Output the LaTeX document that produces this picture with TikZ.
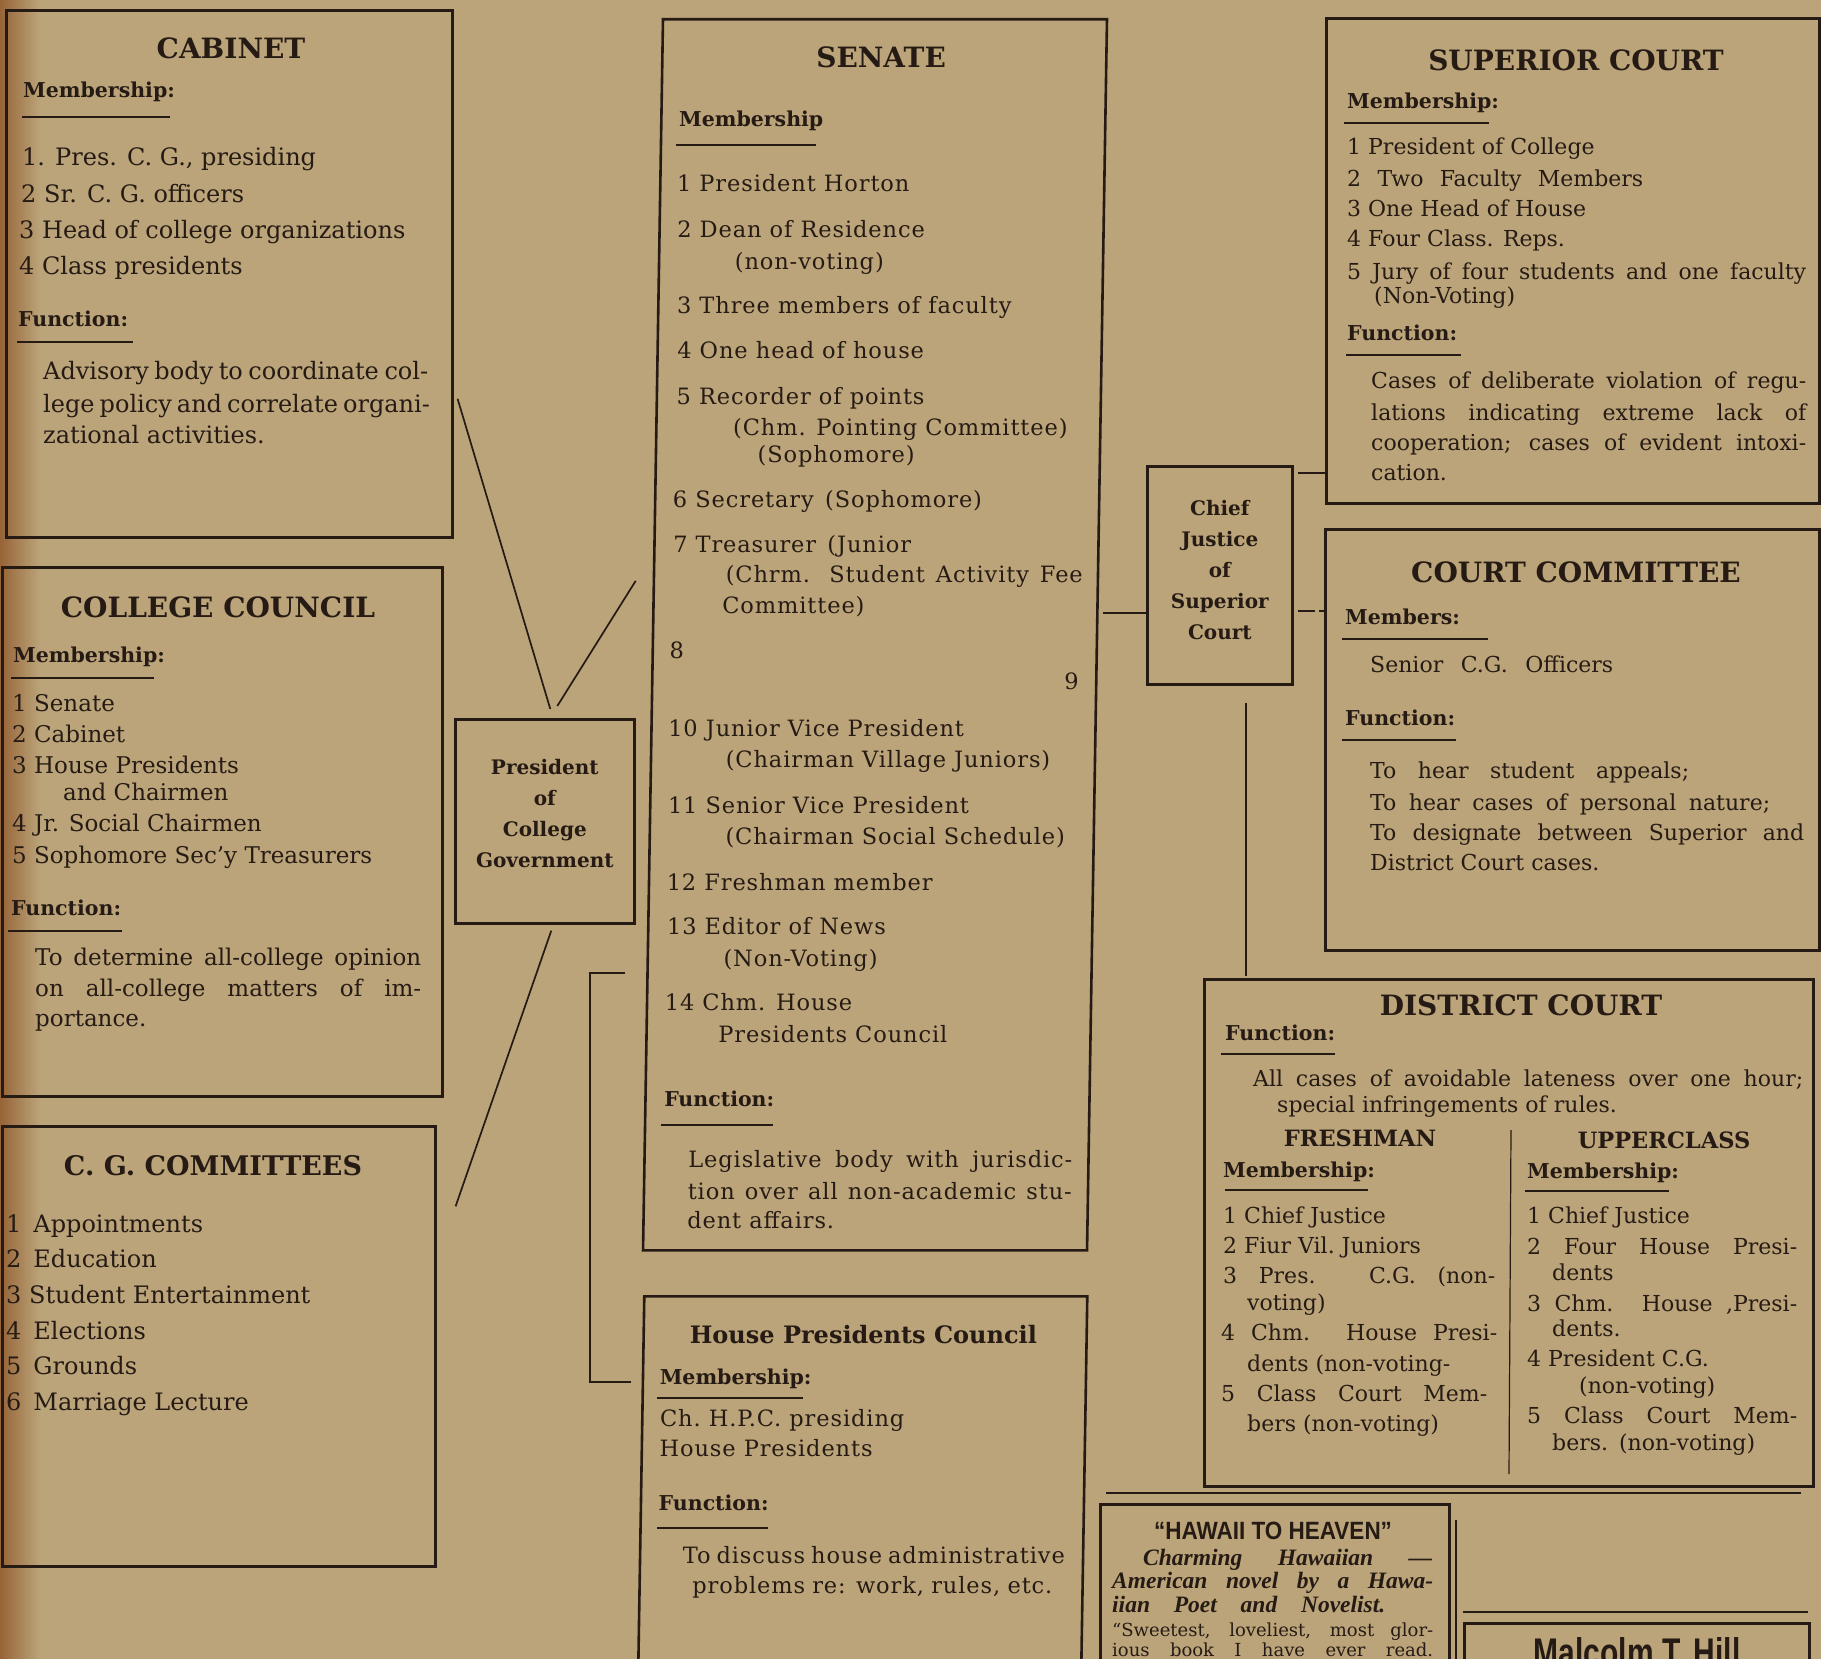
\documentclass[tikz,border=0pt]{standalone}
\usepackage{fontspec}
\setmainfont{DejaVu Serif}
\newfontfamily\spaced[LetterSpace=4]{DejaVu Serif}
\newfontfamily\adserif{Liberation Serif}
\newfontfamily\adsans[FakeStretch=0.9]{Liberation Sans}
\newfontfamily\signfont[FakeStretch=0.75]{Liberation Sans}
\definecolor{paper}{RGB}{187,164,121}
\definecolor{edge}{RGB}{150,100,55}
\definecolor{ink}{RGB}{38,27,20}
\newcommand\spread[2]{\makebox[#1][s]{#2}}

\tikzset{
  orgbox/.style={draw=ink, line width=2.6pt, inner sep=0pt, anchor=north west},
  boxtext/.style={inner sep=0pt, align=center, text=ink, font=\bfseries\fontsize{20}{31}\selectfont},
  linkline/.style={draw=ink, line width=1.7pt},
  ruleline/.style={draw=ink, line width=1.5pt},
  boxtitle/.style={inner sep=0pt, text=ink, font=\bfseries\fontsize{28}{32}\selectfont},
  subhead/.style={anchor=base west, inner sep=0pt, text=ink, font=\bfseries\fontsize{20.5}{24}\selectfont},
  listline/.style={anchor=base west, inner sep=0pt, text=ink, font=\fontsize{23}{28}\selectfont},
  wideline/.style={listline, font=\fontsize{24}{28}\selectfont},
  senline/.style={listline, font=\spaced\fontsize{22.5}{28}\selectfont},
  courtline/.style={listline, font=\fontsize{22}{28}\selectfont},
  adline/.style={anchor=base west, inner sep=0pt, text=ink},
  aditalic/.style={adline, font=\adserif\bfseries\itshape\fontsize{23.5}{26}\selectfont},
  adquote/.style={adline, font=\fontsize{18}{20}\selectfont}
}

\begin{document}
\begin{tikzpicture}[x=1pt, y=-1pt]
  \useasboundingbox (0,0) rectangle (1821,1659);
  \clip (0,0) rectangle (1821,1659);
  \fill[paper] (0,0) rectangle (1821,1659);
  \shade[left color=edge, right color=paper] (0,0) rectangle (40,1659);

  % left column
  \node[orgbox, minimum width=446pt, minimum height=527pt] (cabinet) at (5,9) {};
  \node[boxtitle] (cabinet-title) at (231,48) {CABINET};
  \node[subhead] (cabinet-mem) at (23,98) {Membership:};
  \draw[ruleline] (22,117) -- (170,117);
  \node[wideline] (cabinet-1) at (22,165) {1. Pres. C. G., presiding};
  \node[wideline] (cabinet-2) at (21,202) {2 Sr. C. G. officers};
  \node[wideline] (cabinet-3) at (19,238) {3 Head of college organizations};
  \node[wideline] (cabinet-4) at (19,274) {4 Class presidents};
  \node[subhead] (cabinet-fun) at (18,326) {Function:};
  \draw[ruleline] (17,342) -- (133,342);
  \node[wideline] (cabinet-f1) at (43,379) {\spread{385pt}{Advisory body to coordinate col-}};
  \node[wideline] (cabinet-f2) at (43,412) {\spread{385pt}{lege policy and correlate organi-}};
  \node[wideline] (cabinet-f3) at (43,443) {zational activities.};

  \node[orgbox, minimum width=440pt, minimum height=529pt] (council) at (1,566) {};
  \node[boxtitle] (council-title) at (218,607) {COLLEGE COUNCIL};
  \node[subhead] (council-mem) at (13,662) {Membership:};
  \draw[ruleline] (11,678) -- (154,678);
  \node[listline] (council-1) at (12,711) {1 Senate};
  \node[listline] (council-2) at (12,742) {2 Cabinet};
  \node[listline] (council-3) at (12,773) {3 House Presidents};
  \node[listline] (council-3b) at (63,800) {and Chairmen};
  \node[listline] (council-4) at (12,831) {4 Jr. Social Chairmen};
  \node[listline] (council-5) at (12,863) {5 Sophomore Sec'y Treasurers};
  \node[subhead] (council-fun) at (11,915) {Function:};
  \draw[ruleline] (8,931) -- (122,931);
  \node[listline] (council-f1) at (35,965) {\spread{386pt}{To determine all-college opinion}};
  \node[listline] (council-f2) at (35,996) {\spread{386pt}{on all-college matters of im-}};
  \node[listline] (council-f3) at (35,1026) {portance.};

  \node[orgbox, minimum width=433pt, minimum height=440pt] (cgcomm) at (1,1125) {};
  \node[boxtitle, font=\bfseries\fontsize{27}{32}\selectfont] (cgcomm-title) at (213,1166) {C. G. COMMITTEES};
  \node[wideline] (cgcomm-1) at (6,1232) {1\enspace Appointments};
  \node[wideline] (cgcomm-2) at (6,1267) {2\enspace Education};
  \node[wideline] (cgcomm-3) at (6,1303) {3 Student Entertainment};
  \node[wideline] (cgcomm-4) at (6,1339) {4\enspace Elections};
  \node[wideline] (cgcomm-5) at (6,1374) {5\enspace Grounds};
  \node[wideline] (cgcomm-6) at (6,1410) {6\enspace Marriage Lecture};

  \node[orgbox, minimum width=179pt, minimum height=204pt] (pres) at (454,718) {};
  \node[boxtext] (pres-text) at ([yshift=8pt]pres.center) {President\\of\\College\\Government};

  % middle column, printed slightly askew
  \begin{scope}[xslant=0.0162]
    \node[orgbox, transform shape, minimum width=444pt, minimum height=1231pt] (senate) at (662,18) {};
    \node[boxtitle] (senate-title) at (882,57) {SENATE};
    \node[subhead] (senate-mem) at (681,127) {Membership};
    \draw[ruleline] (678,145) -- (818,145);
    \node[senline] (senate-1) at (680,191) {1 President Horton};
    \node[senline] (senate-2) at (681,237) {2 Dean of Residence};
    \node[senline] (senate-2b) at (739,269) {(non-voting)};
    \node[senline] (senate-3) at (682,313) {3 Three members of faculty};
    \node[senline] (senate-4) at (683,358) {4 One head of house};
    \node[senline] (senate-5) at (683,404) {5 Recorder of points};
    \node[senline] (senate-5b) at (740,435) {(Chm. Pointing Committee)};
    \node[senline] (senate-5c) at (765,462) {(Sophomore)};
    \node[senline] (senate-6) at (681,507) {6 Secretary\enspace(Sophomore)};
    \node[senline] (senate-7) at (682,552) {7 Treasurer\enspace(Junior};
    \node[senline] (senate-7b) at (735,582) {\spread{357pt}{(Chrm. Student Activity Fee}};
    \node[senline] (senate-7c) at (732,613) {Committee)};
    \node[senline] (senate-8) at (680,658) {8};
    \node[senline, anchor=base east] (senate-9) at (1090,689) {9};
    \node[senline] (senate-10) at (680,736) {10 Junior Vice President};
    \node[senline] (senate-10b) at (738,767) {(Chairman Village Juniors)};
    \node[senline] (senate-11) at (681,813) {11 Senior Vice President};
    \node[senline] (senate-11b) at (739,844) {(Chairman Social Schedule)};
    \node[senline] (senate-12) at (681,890) {12 Freshman member};
    \node[senline] (senate-13) at (682,934) {13 Editor of News};
    \node[senline] (senate-13b) at (739,966) {(Non-Voting)};
    \node[senline] (senate-14) at (681,1010) {14 Chm. House};
    \node[senline] (senate-14b) at (735,1042) {Presidents Council};
    \node[subhead] (senate-fun) at (682,1106) {Function:};
    \draw[ruleline] (679,1125) -- (791,1125);
    \node[senline] (senate-f1) at (707,1167) {\spread{384pt}{Legislative body with jurisdic-}};
    \node[senline] (senate-f2) at (707,1199) {\spread{384pt}{tion over all non-academic stu-}};
    \node[senline] (senate-f3) at (707,1228) {dent affairs.};

    \node[orgbox, transform shape, minimum width=443pt, minimum height=420pt] (hpc) at (664,1295) {};
    \node[boxtitle, font=\bfseries\fontsize{24}{28}\selectfont] (hpc-title) at (885,1335) {House Presidents Council};
    \node[subhead] (hpc-mem) at (682,1384) {Membership:};
    \draw[ruleline] (680,1398) -- (826,1398);
    \node[senline] (hpc-1) at (683,1426) {Ch.\ H.P.C.\ presiding};
    \node[senline] (hpc-2) at (683,1456) {House Presidents};
    \node[subhead] (hpc-fun) at (683,1510) {Function:};
    \draw[ruleline] (682,1528) -- (793,1528);
    \node[senline] (hpc-f1) at (708,1563) {\spread{382pt}{To discuss house administrative}};
    \node[senline] (hpc-f2) at (718,1593) {\spread{360pt}{problems re: work, rules, etc.}};
  \end{scope}

  % right column
  \node[orgbox, minimum width=145pt, minimum height=218pt] (chief) at (1146,465) {};
  \node[boxtext] (chief-text) at ([yshift=5pt]chief.center) {Chief\\Justice\\of\\Superior\\Court};

  \node[orgbox, minimum width=493pt, minimum height=485pt] (superior) at (1325,17) {};
  \node[boxtitle] (superior-title) at (1576,60) {SUPERIOR COURT};
  \node[subhead] (superior-mem) at (1347,109) {Membership:};
  \draw[ruleline] (1344,123) -- (1489,123);
  \node[courtline] (superior-1) at (1347,155) {1 President of College};
  \node[courtline] (superior-2) at (1347,186) {\spread{296pt}{2 Two Faculty Members}};
  \node[courtline] (superior-3) at (1347,216) {3 One Head of House};
  \node[courtline] (superior-4) at (1347,246) {4 Four Class. Reps.};
  \node[courtline] (superior-5) at (1347,279) {\spread{459pt}{5 Jury of four students and one faculty}};
  \node[courtline] (superior-5b) at (1374,303) {(Non-Voting)};
  \node[subhead] (superior-fun) at (1347,340) {Function:};
  \draw[ruleline] (1346,355) -- (1461,355);
  \node[courtline] (superior-f1) at (1371,388) {\spread{435pt}{Cases of deliberate violation of regu-}};
  \node[courtline] (superior-f2) at (1371,420) {\spread{435pt}{lations indicating extreme lack of}};
  \node[courtline] (superior-f3) at (1371,450) {\spread{435pt}{cooperation; cases of evident intoxi-}};
  \node[courtline] (superior-f4) at (1371,480) {cation.};

  \node[orgbox, minimum width=494pt, minimum height=421pt] (courtcom) at (1324,528) {};
  \node[boxtitle] (courtcom-title) at (1576,572) {COURT COMMITTEE};
  \node[subhead] (courtcom-mem) at (1345,624) {Members:};
  \draw[ruleline] (1342,639) -- (1488,639);
  \node[courtline] (courtcom-1) at (1370,672) {\spread{243pt}{Senior C.G. Officers}};
  \node[subhead] (courtcom-fun) at (1345,725) {Function:};
  \draw[ruleline] (1342,740) -- (1456,740);
  \node[courtline] (courtcom-f1) at (1370,778) {\spread{319pt}{To hear student appeals;}};
  \node[courtline] (courtcom-f2) at (1370,810) {\spread{400pt}{To hear cases of personal nature;}};
  \node[courtline] (courtcom-f3) at (1370,840) {\spread{434pt}{To designate between Superior and}};
  \node[courtline] (courtcom-f4) at (1370,870) {District Court cases.};

  \node[orgbox, minimum width=609pt, minimum height=507pt] (district) at (1203,978) {};
  \node[boxtitle] (district-title) at (1521,1005) {DISTRICT COURT};
  \node[subhead] (district-fun) at (1225,1040) {Function:};
  \draw[ruleline] (1221,1054) -- (1335,1054);
  \node[courtline] (district-f1) at (1253,1086) {\spread{550pt}{All cases of avoidable lateness over one hour;}};
  \node[courtline] (district-f2) at (1277,1112) {special infringements of rules.};
  \node[boxtitle, font=\bfseries\fontsize{22.5}{26}\selectfont] (fresh-title) at (1360,1138) {FRESHMAN};
  \node[boxtitle, font=\bfseries\fontsize{22.5}{26}\selectfont] (upper-title) at (1664,1140) {UPPERCLASS};
  \draw[ruleline, line width=1.2pt] (1511,1130) -- (1509,1474);
  \node[subhead] (fresh-mem) at (1223,1177) {Membership:};
  \draw[ruleline] (1225,1190) -- (1368,1190);
  \node[courtline] (fresh-1) at (1223,1223) {1 Chief Justice};
  \node[courtline] (fresh-2) at (1223,1253) {2 Fiur Vil.\ Juniors};
  \node[courtline] (fresh-3) at (1223,1283) {\spread{272pt}{3 Pres. C.G. (non-}};
  \node[courtline] (fresh-3b) at (1247,1310) {voting)};
  \node[courtline] (fresh-4) at (1221,1340) {\spread{276pt}{4 Chm. House Presi-}};
  \node[courtline] (fresh-4b) at (1247,1371) {dents (non-voting-};
  \node[courtline] (fresh-5) at (1221,1401) {\spread{266pt}{5 Class Court Mem-}};
  \node[courtline] (fresh-5b) at (1247,1431) {bers (non-voting)};
  \node[subhead] (upper-mem) at (1527,1178) {Membership:};
  \draw[ruleline] (1525,1191) -- (1669,1191);
  \node[courtline] (upper-1) at (1527,1223) {1 Chief Justice};
  \node[courtline] (upper-2) at (1527,1254) {\spread{270pt}{2 Four House Presi-}};
  \node[courtline] (upper-2b) at (1552,1280) {dents};
  \node[courtline] (upper-3) at (1527,1311) {\spread{270pt}{3 Chm. House ,Presi-}};
  \node[courtline] (upper-3b) at (1552,1336) {dents.};
  \node[courtline] (upper-4) at (1527,1366) {4 President C.G.};
  \node[courtline] (upper-4b) at (1579,1393) {(non-voting)};
  \node[courtline] (upper-5) at (1527,1423) {\spread{270pt}{5 Class Court Mem-}};
  \node[courtline] (upper-5b) at (1552,1450) {bers.\enspace(non-voting)};

  % connectors
  \draw[linkline] ([shift={(4pt,-125pt)}]cabinet.east) -- ([shift={(5.5pt,9pt)}]pres.north);
  \draw[linkline] ([shift={(-16pt,54pt)}]senate.west) -- ([shift={(12.5pt,12pt)}]pres.north);
  \draw[linkline] ([shift={(6.5pt,-6pt)}]pres.south) -- ([shift={(19pt,140pt)}]cgcomm.east);
  \coordinate (senate-hook) at (625,973);
  \coordinate (hpc-hook) at (631,1382);
  \draw[linkline] (senate-hook) -- ++(-35,0) |- (hpc-hook);
  \draw[linkline] ([yshift=-38pt]chief.west) -- ++(-43,0);
  \draw[linkline] ([shift={(4pt,-8pt)}]chief.north east) -- ++(30,0);
  \draw[linkline, dash pattern=on 17pt off 4pt on 7pt off 20pt] ([shift={(4pt,-36pt)}]chief.east) -- ++(27,0);
  \draw[linkline] ([shift={(26.5pt,-17pt)}]chief.south) -- ++(0,273);

  % page furniture below the chart
  \draw[ruleline] (1106,1493) -- (1801,1493);
  \node[orgbox, minimum width=349pt, minimum height=200pt] (hawaii) at (1099,1503) {};
  \node[inner sep=0pt, text=ink, font=\adsans\bfseries\fontsize{25}{28}\selectfont] (hawaii-title) at (1273,1531) {“HAWAII TO HEAVEN”};
  \node[aditalic] (hawaii-1) at (1143,1565) {\spread{289pt}{Charming Hawaiian —}};
  \node[aditalic] (hawaii-2) at (1112,1588) {\spread{321pt}{American novel by a Hawa-}};
  \node[aditalic] (hawaii-3) at (1112,1612) {\spread{273pt}{iian Poet and Novelist.}};
  \node[adquote] (hawaii-4) at (1112,1636) {\spread{321pt}{“Sweetest, loveliest, most glor-}};
  \node[adquote] (hawaii-5) at (1112,1656) {\spread{321pt}{ious book I have ever read.}};
  \draw[ruleline] (1456,1520) -- (1456,1659);
  \draw[ruleline] (1463,1612) -- (1808,1612);
  \node[orgbox, minimum width=345pt, minimum height=100pt] (malcolm) at (1463,1622) {};
  \node[inner sep=0pt, anchor=base, text=ink, font=\signfont\bfseries\fontsize{40}{44}\selectfont] (malcolm-name) at (1637,1666) {Malcolm T. Hill};
\end{tikzpicture}
\end{document}
